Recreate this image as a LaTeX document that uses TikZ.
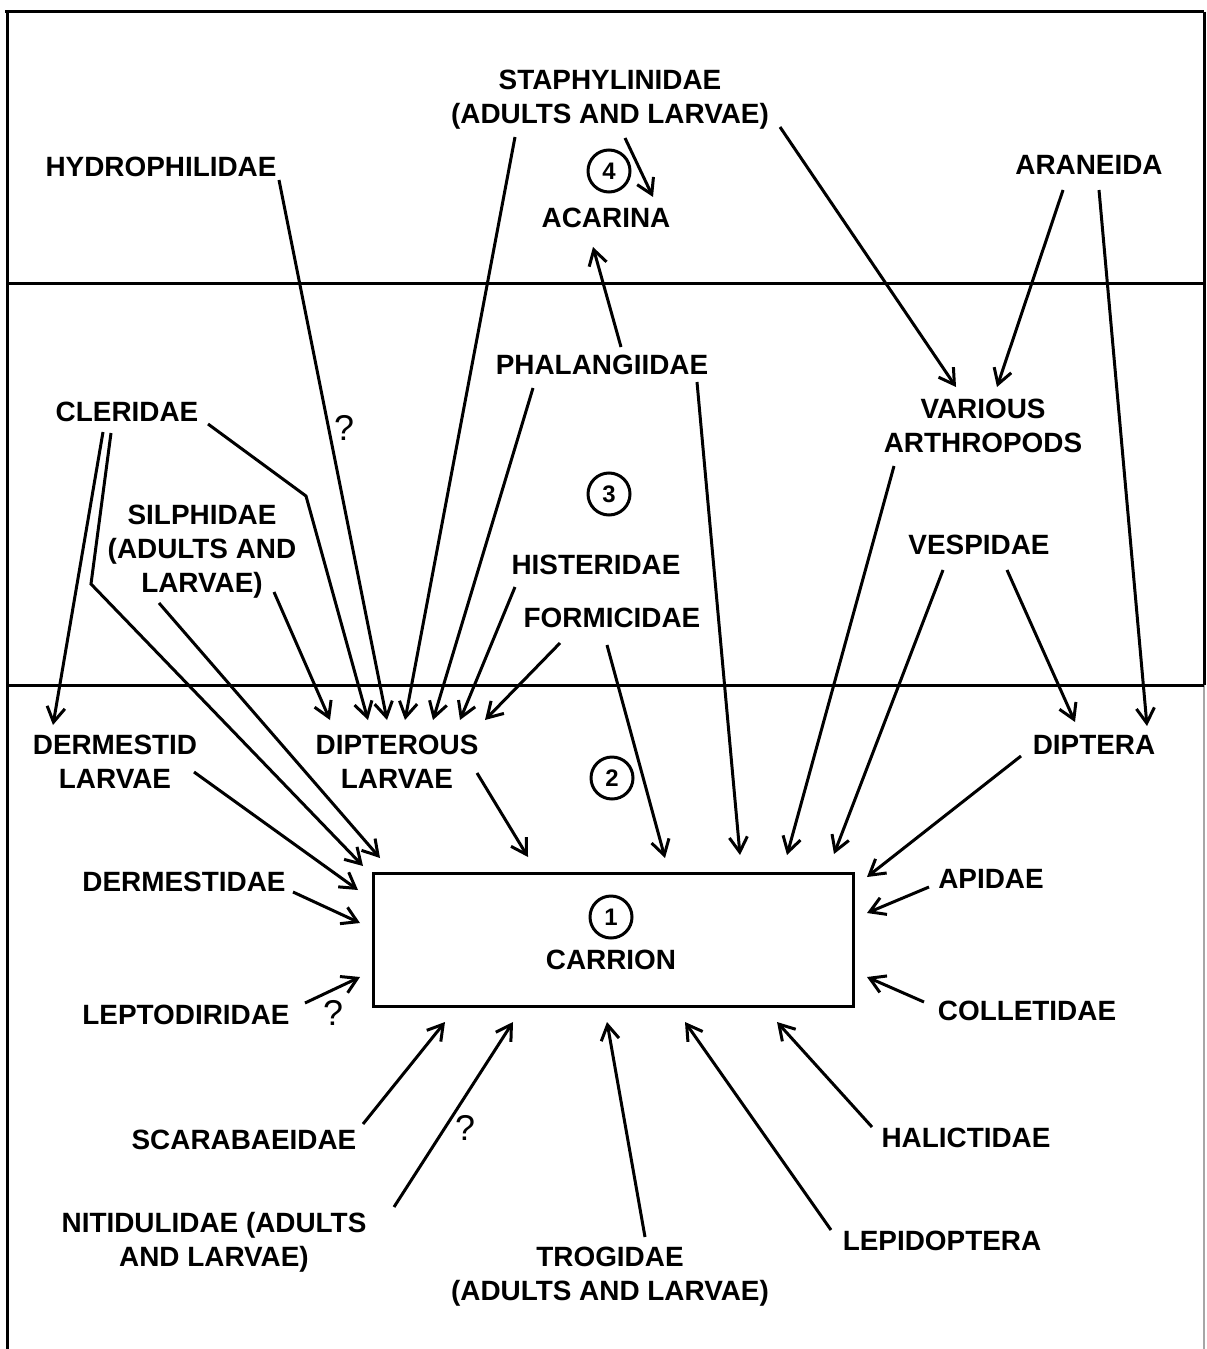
\documentclass[tikz,border=0pt]{standalone}
\usepackage{fontspec}
\setmainfont{Liberation Sans}
\usetikzlibrary{arrows.meta}
\begin{document}
\begin{tikzpicture}[x=1bp,y=-1bp,
  lbl/.style={font=\bfseries\fontsize{28}{34}\selectfont, inner sep=0pt, anchor=north, align=center},
  qm/.style={font=\fontsize{36}{36}\selectfont, inner sep=0pt},
  num/.style={circle, draw, line width=3bp, minimum size=42bp, inner sep=0pt, font=\bfseries\fontsize{24}{24}\selectfont},
  link/.style={line width=3bp, -{Straight Barb[length=15bp,width=18bp,line width=3bp]}},
  frameline/.style={line width=3bp}]
\useasboundingbox (0,0) rectangle (1206,1349);
% frame and level lines
\draw[frameline] (5,12) -- (1204,12);
\draw[frameline] (7,12) -- (7,1349);
\draw[frameline] (1204,12) -- (1204,685);
\draw[line width=1.2bp, black!35] (1204,685) -- (1204,1349);
\draw[frameline] (7,283) -- (1204,283);
\draw[frameline] (7,685) -- (1204,685);
% level numbers
\node[num] (n4) at (609,171) {4};
\node[num] (n3) at (609,494) {3};
\node[num] (n2) at (612,778) {2};
% carrion
\node[draw, line width=3bp, minimum width=480bp, minimum height=133bp, inner sep=0pt] (carrionbox) at (613,939.5) {};
\node[num] (n1) at (611,917) {1};
\node[lbl] (carrion) at (611,950) {CARRION};
% labels
\node[lbl] (staph) at (610,70) {STAPHYLINIDAE\\(ADULTS AND LARVAE)};
\node[lbl] (hydro) at (161,157) {HYDROPHILIDAE};
\node[lbl] (aran) at (1089,155) {ARANEIDA};
\node[lbl] (acar) at (606,208) {ACARINA};
\node[lbl] (phal) at (602,355) {PHALANGIIDAE};
\node[lbl] (cler) at (127,402) {CLERIDAE};
\node[lbl] (vari) at (983,399) {VARIOUS\\ARTHROPODS};
\node[lbl] (silph) at (202,505) {SILPHIDAE\\(ADULTS AND\\LARVAE)};
\node[lbl] (hist) at (596,555) {HISTERIDAE};
\node[lbl] (form) at (612,608) {FORMICIDAE};
\node[lbl] (vesp) at (979,535) {VESPIDAE};
\node[lbl] (dermlarv) at (115,735) {DERMESTID\\LARVAE};
\node[lbl] (diplarv) at (397,735) {DIPTEROUS\\LARVAE};
\node[lbl] (dipt) at (1094,735) {DIPTERA};
\node[lbl] (derm) at (184,872) {DERMESTIDAE};
\node[lbl] (apid) at (991,869) {APIDAE};
\node[lbl] (lept) at (186,1005) {LEPTODIRIDAE};
\node[lbl] (coll) at (1027,1001) {COLLETIDAE};
\node[lbl] (scar) at (244,1130) {SCARABAEIDAE};
\node[lbl] (hali) at (966,1128) {HALICTIDAE};
\node[lbl] (niti) at (214,1212) {NITIDULIDAE (ADULTS\\AND LARVAE)};
\node[lbl] (trog) at (610,1247) {TROGIDAE\\(ADULTS AND LARVAE)};
\node[lbl] (lepi) at (942,1231) {LEPIDOPTERA};
% question marks
\node[qm] (q1) at (344,428) {?};
\node[qm] (q2) at (333,1013) {?};
\node[qm] (q3) at (465,1128) {?};
% connector end points
\coordinate (hydroS) at (279,180);   \coordinate (dl3) at (387,720);
\coordinate (staphL) at (515,137);   \coordinate (dl4) at (405,720);
\coordinate (staphA) at (625,138);   \coordinate (acarR) at (653,197);
\coordinate (staphR) at (780,127);   \coordinate (variL) at (956,387);
\coordinate (aranL) at (1063,190);   \coordinate (variR) at (997,387);
\coordinate (aranR) at (1099,190);   \coordinate (diptR) at (1147,726);
\coordinate (phalA) at (621,347);    \coordinate (acarB) at (593,247);
\coordinate (phalL) at (533,388);    \coordinate (dl5) at (433,720);
\coordinate (phalR) at (697,382);    \coordinate (cT3) at (740,855);
\coordinate (clerA) at (103,432);    \coordinate (dermT) at (53,725);
\coordinate (clerB) at (111,433);    \coordinate (clerBk) at (91,584);   \coordinate (cTL2) at (363,866);
\coordinate (clerC) at (208,424);    \coordinate (clerCk) at (306,496);  \coordinate (dl2) at (368,720);
\coordinate (silL) at (159,603);     \coordinate (cTL1) at (380,858);
\coordinate (silR) at (274,592);     \coordinate (dl1) at (330,720);
\coordinate (histS) at (515,587);    \coordinate (dl6) at (460,720);
\coordinate (formL) at (560,643);    \coordinate (dl7) at (485,720);
\coordinate (formR) at (607,645);    \coordinate (cT2) at (665,858);
\coordinate (variS) at (894,466);    \coordinate (cT4) at (787,855);
\coordinate (vespL) at (943,570);    \coordinate (cT5) at (834,854);
\coordinate (vespR) at (1007,570);   \coordinate (diptL) at (1075,722);
\coordinate (dermlS) at (194,772);   \coordinate (cL1) at (358,890);
\coordinate (diplS) at (477,773);    \coordinate (cT1) at (528,857);
\coordinate (diptS) at (1021,756);   \coordinate (cR1) at (867,877);
\coordinate (dermS) at (293,892);    \coordinate (cL2) at (360,923);
\coordinate (apidS) at (929,887);    \coordinate (cR2) at (867,913);
\coordinate (leptS) at (305,1003);   \coordinate (cL3) at (360,977);
\coordinate (collS) at (924,1002);   \coordinate (cR3) at (867,977);
\coordinate (scarS) at (363,1124);   \coordinate (cB1) at (445,1022);
\coordinate (nitiS) at (394,1207);   \coordinate (cB2) at (513,1022);
\coordinate (trogS) at (645,1237);   \coordinate (cB3) at (607,1022);
\coordinate (lepiS) at (831,1230);   \coordinate (cB4) at (685,1022);
\coordinate (haliS) at (872,1127);   \coordinate (cB5) at (777,1022);
% connectors
\draw[link] (hydroS) -- (dl3);
\draw[link] (staphL) -- (dl4);
\draw[link] (staphA) -- (acarR);
\draw[link] (staphR) -- (variL);
\draw[link] (aranL) -- (variR);
\draw[link] (aranR) -- (diptR);
\draw[link] (phalA) -- (acarB);
\draw[link] (phalL) -- (dl5);
\draw[link] (phalR) -- (cT3);
\draw[link] (clerA) -- (dermT);
\draw[link] (clerB) -- (clerBk) -- (cTL2);
\draw[link] (clerC) -- (clerCk) -- (dl2);
\draw[link] (silL) -- (cTL1);
\draw[link] (silR) -- (dl1);
\draw[link] (histS) -- (dl6);
\draw[link] (formL) -- (dl7);
\draw[link] (formR) -- (cT2);
\draw[link] (variS) -- (cT4);
\draw[link] (vespL) -- (cT5);
\draw[link] (vespR) -- (diptL);
\draw[link] (dermlS) -- (cL1);
\draw[link] (diplS) -- (cT1);
\draw[link] (diptS) -- (cR1);
\draw[link] (dermS) -- (cL2);
\draw[link] (apidS) -- (cR2);
\draw[link] (leptS) -- (cL3);
\draw[link] (collS) -- (cR3);
\draw[link] (scarS) -- (cB1);
\draw[link] (nitiS) -- (cB2);
\draw[link] (trogS) -- (cB3);
\draw[link] (lepiS) -- (cB4);
\draw[link] (haliS) -- (cB5);
\end{tikzpicture}
\end{document}
